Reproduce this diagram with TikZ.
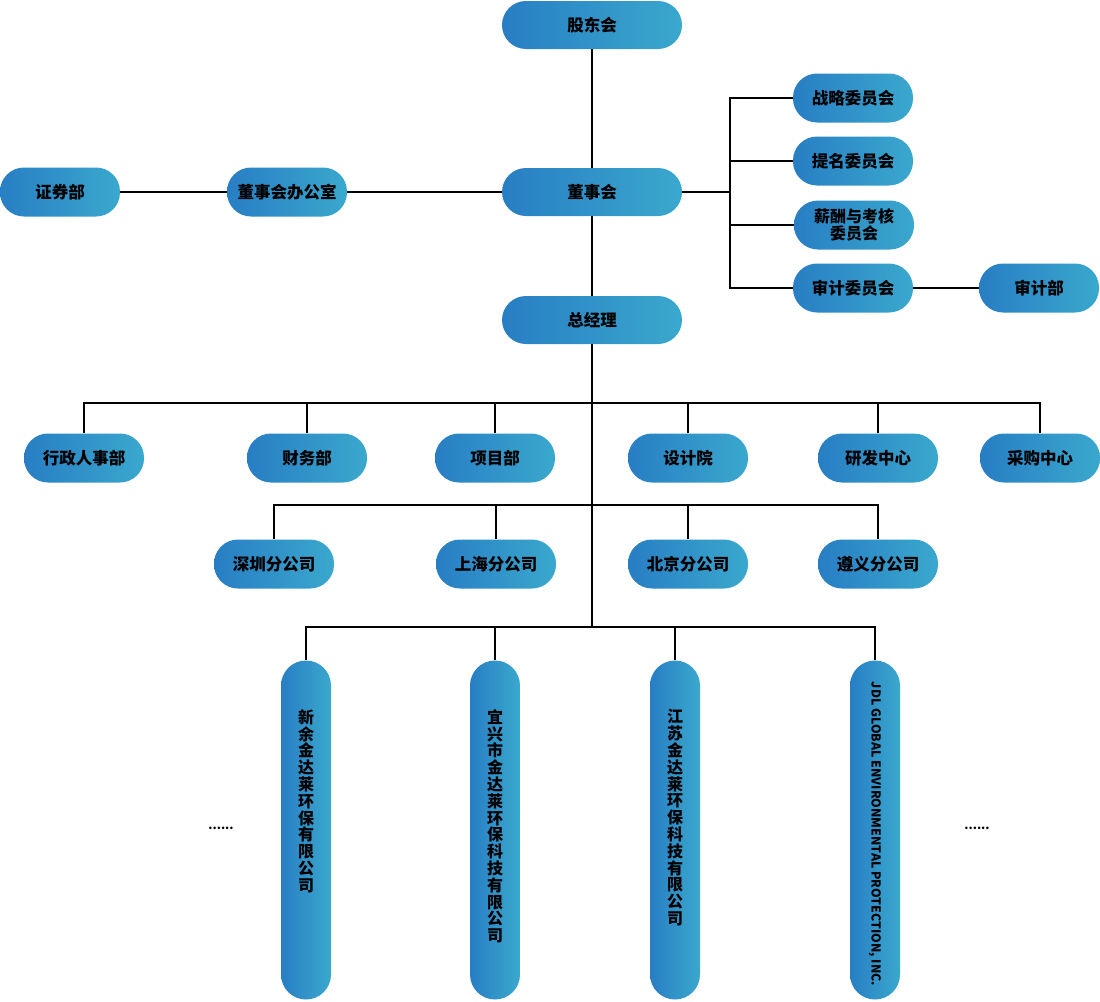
\documentclass[tikz,border=0pt]{standalone}
\usepackage{fontspec}
\setmainfont{Noto Sans CJK SC}
\usetikzlibrary{positioning}
\definecolor{gl}{RGB}{40,126,196}
\definecolor{gr}{RGB}{58,168,205}
\tikzset{
  pill/.style={rectangle, rounded corners=24pt, minimum width=120pt, minimum height=49pt,
    left color=gl, right color=gr, draw=none, inner sep=0pt, align=center,
    font=\bfseries\fontsize{16.5}{17}\selectfont, text=black},
  widepill/.style={pill, minimum width=180pt, minimum height=48pt},
  vpill/.style={pill, rounded corners=25pt, minimum width=50pt, minimum height=339pt},
  vtext/.style={anchor=north, align=center, inner sep=0pt, text=black,
    font=\bfseries\fontsize{16}{16.8}\selectfont},
  conn/.style={draw=black, line width=2pt},
  dots/.style={font=\bfseries\fontsize{12}{14}\selectfont, inner sep=0pt}
}
\begin{document}
\begin{tikzpicture}[x=1pt,y=-1pt]
\useasboundingbox (0,0) rectangle (1100,1001);
% top column
\node[widepill] (gdh) at (592,25) {股东会};
\node[widepill] (dsh) at (592,192) {董事会};
\node[widepill] (zjl) at (592,320) {总经理};
% left
\node[pill] (bgs) at (287,192) {董事会办公室};
\node[pill] (zqb) at (60,192) {证券部};
% committees
\node[pill] (zl) at (853,98) {战略委员会};
\node[pill] (tm) at (853,161) {提名委员会};
\node[pill, font=\bfseries\fontsize{16}{17}\selectfont] (xc) at (854,225) {薪酬与考核\\委员会};
\node[pill] (sj) at (853,288) {审计委员会};
\node[pill] (sjb) at (1039,288) {审计部};
% row 1
\node[pill] (xz) at (84,458) {行政人事部};
\node[pill] (cw) at (307,458) {财务部};
\node[pill] (xm) at (495,458) {项目部};
\node[pill] (sjy) at (688,458) {设计院};
\node[pill] (yf) at (878,458) {研发中心};
\node[pill] (cg) at (1040,458) {采购中心};
% row 2
\node[pill] (sz) at (274,564) {深圳分公司};
\node[pill] (sh) at (496,564) {上海分公司};
\node[pill] (bj) at (688,564) {北京分公司};
\node[pill] (zy) at (878,564) {遵义分公司};
% row 3 vertical
\node[vpill] (xy) at (306,830) {};
\node[vpill] (yx) at (495,830) {};
\node[vpill] (js) at (675,830) {};
\node[vpill] (jdl) at (875,830) {};
\node[vtext] (xyt) at ([yshift=-49pt]xy.north) {新\\余\\金\\达\\莱\\环\\保\\有\\限\\公\\司};
\node[vtext] (yxt) at ([yshift=-49pt]yx.north) {宜\\兴\\市\\金\\达\\莱\\环\\保\\科\\技\\有\\限\\公\\司};
\node[vtext] (jst) at ([yshift=-49pt]js.north) {江\\苏\\金\\达\\莱\\环\\保\\科\\技\\有\\限\\公\\司};
\node[rotate=-90, inner sep=0pt, font=\bfseries\fontsize{12.3}{14}\selectfont] (jdlt) at (875,834) {JDL GLOBAL ENVIRONMENTAL PROTECTION, INC.};
\node[dots] (d1) at (221,828) {......};
\node[dots] (d2) at (977,828) {......};
% bus coordinates
\coordinate (b1) at (592,403);
\coordinate (b2) at (592,505);
\coordinate (b3) at (592,627);
\coordinate (cj) at (730,192);
% connectors
\draw[conn] (gdh.south) -- (dsh.north);
\draw[conn] (dsh.south) -- (zjl.north);
\draw[conn] (zjl.south) -- (b3);
\draw[conn] (dsh.west) -- (bgs.east);
\draw[conn] (bgs.west) -- (zqb.east);
\draw[conn] (dsh.east) -- (cj);
\draw[conn] (cj) |- (zl.west);
\draw[conn] (cj) |- (tm.west);
\draw[conn] (cj) |- (xc.west);
\draw[conn] (cj) |- (sj.west);
\draw[conn] (sj.east) -- (sjb.west);
\foreach \n in {xz,cw,xm,sjy,yf,cg} \draw[conn] (\n.north) |- (b1);
\foreach \n in {sz,sh,bj,zy} \draw[conn] (\n.north) |- (b2);
\foreach \n in {xy,yx,js,jdl} \draw[conn] (\n.north) |- (b3);
\end{tikzpicture}
\end{document}
